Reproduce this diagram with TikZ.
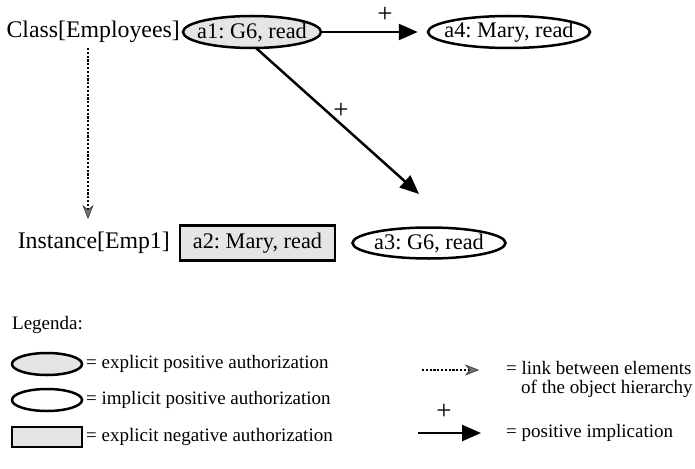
\documentclass[tikz,border=0pt]{standalone}
\usepackage{fontspec}
\setmainfont{Liberation Serif}
\usetikzlibrary{shapes.geometric,arrows.meta}
\tikzset{
  mainfont/.style={font=\fontsize{23.8}{26}\selectfont\frenchspacing},
  nodefont/.style={font=\fontsize{22.3}{24}\selectfont\frenchspacing},
  legfont/.style={font=\fontsize{19}{21}\selectfont\frenchspacing},
  plusfont/.style={font=\fontsize{27}{28}\selectfont},
  authtext/.style={label={[inner sep=0pt,nodefont]center:{#1}}},
  explpos/.style={ellipse,draw,line width=2.5pt,fill=black!10,inner sep=0pt},
  implpos/.style={ellipse,draw,line width=2.5pt,fill=white,inner sep=0pt},
  explneg/.style={rectangle,draw,line width=2.5pt,fill=black!10,inner sep=0pt},
  implarrow/.style={line width=2.5pt,-{Triangle[length=19pt,width=16pt]}},
  hierarrow/.style={line width=2.4pt,dash pattern=on 2.2pt off 1.6pt,-{Stealth[length=14pt,width=11pt,fill=black!55,color=black!80,line width=0.6pt,sep=0pt]}},
  lbl/.style={inner sep=0pt,mainfont},
  plus/.style={inner sep=0pt,plusfont},
  legtext/.style={inner sep=0pt,anchor=west,legfont},
}
\begin{document}
\begin{tikzpicture}[x=1pt,y=-1pt]
\useasboundingbox (0,0) rectangle (695,468);
% main nodes
\node[lbl,anchor=east] (cls) at (180,32) {Class[Employees]};
\node[explpos,minimum width=138pt,minimum height=32pt,authtext={a1: G6, read}] (a1) at (252,32) {};
\node[implpos,minimum width=162pt,minimum height=32pt,authtext={a4: Mary, read}] (a4) at (509,32) {};
\node[lbl,anchor=east] (inst) at (170,243) {Instance[Emp1]};
\node[explneg,minimum width=155pt,minimum height=35pt,authtext={a2: Mary, read}] (a2) at (257.5,243) {};
\node[implpos,minimum width=153pt,minimum height=31pt,authtext={a3: G6, read}] (a3) at (429,243) {};
\coordinate (t3) at (419,194);
\coordinate (s3) at (256,48);
\coordinate (h0) at (88,48);
\coordinate (h1) at (88,219);
% connectors
\draw[implarrow,shorten >=9pt] (a1.east) -- (a4.west);
\node[plus] (p1) at (385,15) {+};
\draw[implarrow] (s3) -- (t3);
\node[plus] (p2) at (341,111) {+};
\draw[hierarrow] (h0) -- (h1);
% legend
\node[legtext] (leg) at (12,325) {Legenda:};
\node[explpos,minimum width=70pt,minimum height=22pt] (l1) at (47,364) {};
\node[legtext] (l1t) at (86,364) {= explicit positive authorization};
\node[implpos,minimum width=70pt,minimum height=22pt] (l2) at (47,400) {};
\node[legtext] (l2t) at (86,400) {= implicit positive authorization};
\node[explneg,minimum width=70pt,minimum height=20pt] (l3) at (47,437) {};
\node[legtext] (l3t) at (86,437) {= explicit negative authorization};
\coordinate (r1a) at (422,370);
\coordinate (r1b) at (479,370);
\draw[hierarrow,line width=1.6pt] (r1a) -- (r1b);
\node[legtext] (r1t) at (506,368) {= link between elements};
\node[legtext] (r1u) at (521,389) {of the object hierarchy};
\node[plus] (p3) at (444,412) {+};
\coordinate (r2a) at (418,433);
\coordinate (r2b) at (481,433);
\draw[implarrow] (r2a) -- (r2b);
\node[legtext] (r2t) at (506,433) {= positive implication};
\end{tikzpicture}
\end{document}
